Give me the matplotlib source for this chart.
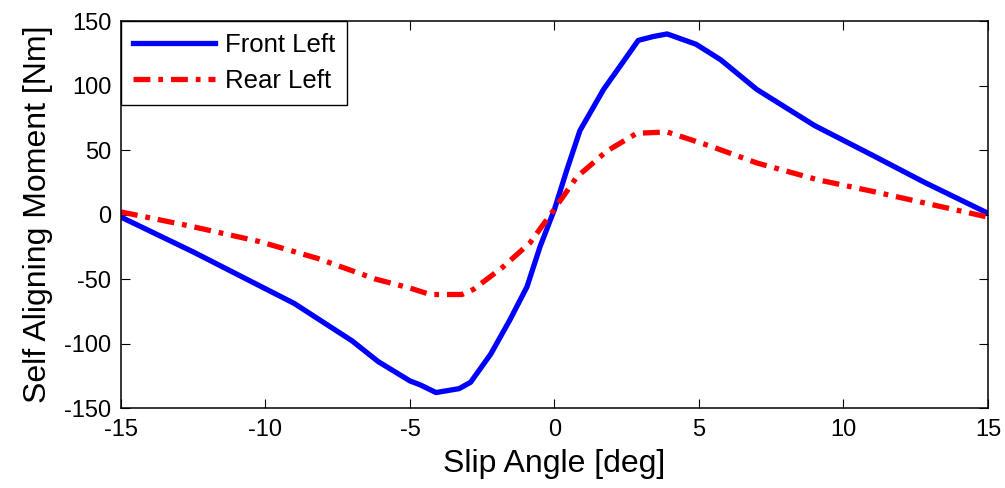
import matplotlib
matplotlib.use("Agg")
import matplotlib.pyplot as plt

plt.rcParams['font.family'] = ['Liberation Sans', 'DejaVu Sans']
plt.rcParams['axes.unicode_minus'] = False

# Slip angle [deg] and self aligning moment [Nm]
slip_front = [-15, -12.5, -9.0, -7.0, -6.1, -5.0, -4.65, -4.1, -3.3, -2.9, -2.2,
              -1.55, -0.95, -0.5, 0.0, 0.42, 0.88, 1.7, 2.27, 2.9, 3.42, 3.9,
              4.9, 5.75, 7.0, 9.0, 11.0, 12.8, 15]
moment_front = [-2, -29, -69, -98, -114, -129, -132, -138, -135, -130, -108,
                -82, -56, -25, 4, 34, 65, 97, 115, 135, 138, 140,
                132, 120, 97, 69, 46, 25, 1]

slip_rear = [-15, -12.6, -10.2, -8.2, -6.2, -5.0, -4.3, -3.2, -2.8, -1.8, -0.85,
             -0.04, 0.77, 1.8, 2.85, 3.9, 5.4, 7.0, 9.1, 11.0, 12.8, 15]
moment_rear = [2, -9, -21, -34, -50, -57, -62, -62, -58, -41, -22,
               3, 29, 49, 63, 64, 53, 40, 27, 18, 9, -2]

x_ticks = [-15, -10, -5, 0, 5, 10, 15]
y_ticks = [-150, -100, -50, 0, 50, 100, 150]

fig = plt.figure(figsize=(10.05, 4.88), dpi=100)
ax = fig.add_axes([0.1204, 0.1639, 0.8626, 0.7930])

ax.plot(slip_front, moment_front, color='#0000ff', lw=3.8, label='Front Left',
        solid_joinstyle='round')
ax.plot(slip_rear, moment_rear, color='#ff0000', lw=3.8, label='Rear Left',
        linestyle=(0, (3.2, 1.5, 0.9, 1.5)), dash_capstyle='butt')

ax.set_xlim(-15, 15)
ax.set_ylim(-150, 150)
ax.set_xticks(x_ticks)
ax.set_yticks(y_ticks)
ax.tick_params(direction='in', length=6.5, width=0.8, top=True, right=True,
               labelsize=17, colors='black')
ax.tick_params(axis='x', pad=8)
ax.tick_params(axis='y', pad=7)
for s in ax.spines.values():
    s.set_linewidth(1.1)
    s.set_color('black')

ax.set_xlabel('Slip Angle [deg]', fontsize=23, labelpad=6)
ax.set_ylabel('Self Aligning Moment [Nm]', fontsize=23, labelpad=8)

leg = ax.legend(loc='upper left', fontsize=18.5, frameon=True, fancybox=False,
                borderaxespad=0.0, handlelength=3.2, handletextpad=0.4,
                borderpad=0.45, labelspacing=0.5)
leg.get_frame().set_edgecolor('black')
leg.get_frame().set_linewidth(1.0)
leg.get_frame().set_alpha(1.0)

fig.savefig('out.png', dpi=100)
